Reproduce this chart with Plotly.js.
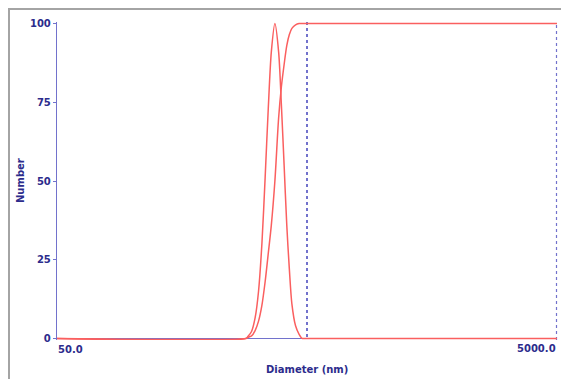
<!DOCTYPE html>
<html>
<head>
<meta charset="utf-8">
<script src="https://cdn.plot.ly/plotly-3.0.1.min.js"></script>
<style>
html,body{margin:0;padding:0;background:#fff;}
#chart{width:561px;height:379px;}
</style>
</head>
<body>
<div id="chart"></div>
<script>
// Data
const diameters = [50, 285, 290, 300, 310, 320, 330, 340, 350, 360, 372, 385, 395, 405, 415, 425, 435, 450, 465, 478, 490, 500, 5000];
const numberDist = [0, 0, 0.6, 2.2, 6.5, 15, 30, 51, 73, 91, 100, 91, 74, 55, 36, 22, 11, 4, 1.3, 0, 0, 0, 0];
const cumulative = [0, 0, 0.3, 0.8, 2.5, 5.5, 10.5, 18, 27, 36, 50, 70, 80, 87, 93, 96.5, 98.5, 99.6, 100, 100, 100, 100, 100];
const yTicks = [0, 25, 50, 75, 100];
const xGridVals = [50, 500, 5000];
const xTickLabels = ['50.0', '5000.0'];
const xTitle = 'Diameter (nm)';
const yTitle = 'Number';

const navy = '#2c2c8c';
const blue = '#7272cc';
const red = 'rgb(250,95,95)';
const fnt = {family: 'DejaVu Sans', size: 10, color: navy, weight: 'bold'};

const traces = [
  {x: diameters, y: numberDist, type: 'scatter', mode: 'lines', line: {color: red, width: 1.5, shape: 'spline', smoothing: 0.8}, hoverinfo: 'none'},
  {x: diameters, y: cumulative, type: 'scatter', mode: 'lines', line: {color: red, width: 1.5, shape: 'spline', smoothing: 0.8}, hoverinfo: 'none'}
];

const layout = {
  width: 561, height: 379,
  margin: {l: 57, r: 4, t: 22, b: 39},
  paper_bgcolor: '#ffffff', plot_bgcolor: '#ffffff',
  showlegend: false,
  xaxis: {
    type: 'log', range: [Math.log10(50), Math.log10(5000)],
    tickvals: xGridVals, showticklabels: false, ticks: '',
    showgrid: true, gridcolor: blue, griddash: 'dot', gridwidth: 1.2,
    showline: false, zeroline: false, fixedrange: true
  },
  yaxis: {
    range: [-0.5, 100.5], tickvals: yTicks, ticktext: yTicks.map(String),
    ticks: 'outside', ticklen: 3, tickcolor: blue, tickwidth: 1,
    tickfont: fnt, showgrid: false,
    showline: true, linecolor: blue, linewidth: 1.2,
    zeroline: true, zerolinecolor: blue, zerolinewidth: 1.5, fixedrange: true
  },
  shapes: [
    {type: 'rect', xref: 'paper', yref: 'paper', x0: -0.096, x1: 1.3, y0: -0.4, y1: 1.0409,
     line: {color: '#a4a4a4', width: 2}, fillcolor: 'rgba(0,0,0,0)', layer: 'below'},
    {type: 'line', xref: 'paper', yref: 'paper', x0: 0.999, x1: 0.999, y0: 0, y1: 1,
     line: {color: blue, width: 1.2, dash: 'dot'}, layer: 'below'}
  ],
  annotations: [
    {xref: 'x', yref: 'paper', x: Math.log10(xGridVals[0]), y: -0.0314, xanchor: 'left', yanchor: 'middle',
     text: xTickLabels[0], showarrow: false, font: fnt, borderpad: 0},
    {xref: 'x', yref: 'paper', x: Math.log10(xGridVals[2]), y: -0.0283, xanchor: 'right', yanchor: 'middle',
     text: xTickLabels[1], showarrow: false, font: fnt, borderpad: 0},
    {xref: 'paper', yref: 'paper', x: 0.5, y: -0.0912, xanchor: 'center', yanchor: 'middle',
     text: xTitle, showarrow: false, font: fnt},
    {xref: 'paper', yref: 'paper', x: -0.074, y: 0.5, xanchor: 'center', yanchor: 'middle',
     text: yTitle, textangle: -90, showarrow: false, font: fnt}
  ]
};

Plotly.newPlot('chart', traces, layout, {staticPlot: true, displayModeBar: false});
</script>
</body>
</html>
